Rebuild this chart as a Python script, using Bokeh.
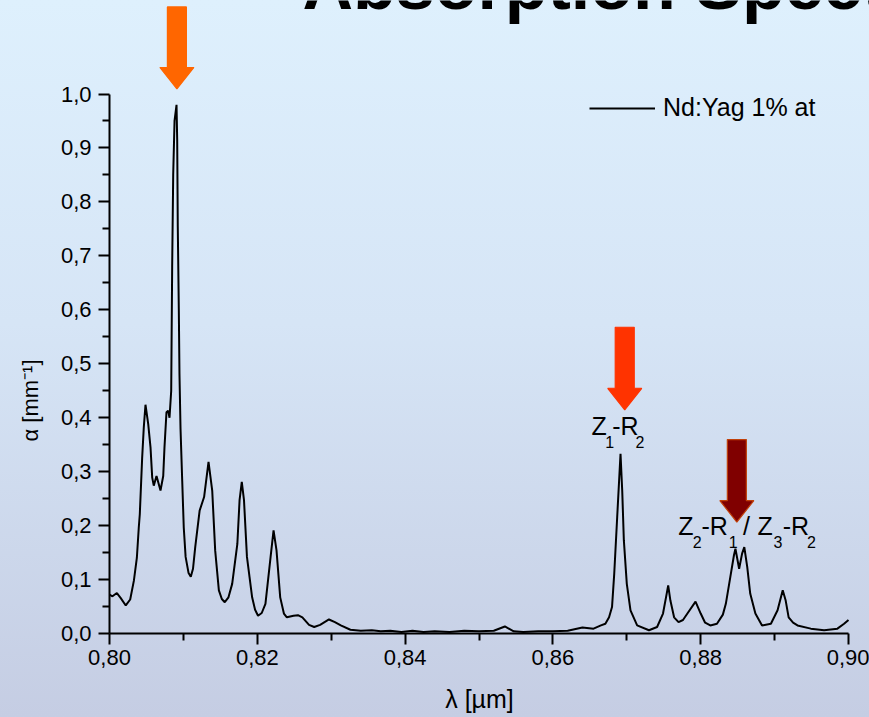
import math
from bokeh.plotting import figure
from bokeh.models import Range1d, FixedTicker, Label, Legend, LegendItem, Title
from bokeh.embed import file_html
from bokeh.resources import INLINE

# ---------------- data ----------------
wavelength_um = [
    0.8000, 0.8004, 0.8010, 0.8015, 0.8022, 0.8028, 0.8033, 0.8037, 0.80396, 0.8041,
    0.80442, 0.80464, 0.80487, 0.80524, 0.80555, 0.80578, 0.80599, 0.80636, 0.80654, 0.8069,
    0.80727, 0.80744, 0.80771, 0.80794, 0.80812, 0.80835, 0.80848, 0.80862, 0.8088, 0.80907,
    0.80916, 0.80924, 0.80938, 0.80947, 0.80961, 0.80984, 0.81005, 0.8103, 0.8107, 0.8110,
    0.8113, 0.8116, 0.8122, 0.8128, 0.8134, 0.8139, 0.8143, 0.8148, 0.8152, 0.8156,
    0.8161, 0.8166, 0.8173, 0.8176, 0.8179, 0.8182, 0.8186, 0.8193, 0.8197, 0.8201,
    0.8206, 0.8211, 0.8218, 0.8222, 0.8226, 0.8231, 0.8236, 0.8240, 0.8249, 0.8255,
    0.8261, 0.8270, 0.8277, 0.8285, 0.8297, 0.8305, 0.8313, 0.8326, 0.8340, 0.8355,
    0.8367, 0.8380, 0.8395, 0.8410, 0.8425, 0.8440, 0.8460, 0.8480, 0.8500, 0.8520,
    0.8535, 0.8547, 0.8560, 0.8580, 0.8600, 0.8620, 0.8640, 0.8655, 0.8665, 0.8671,
    0.8676, 0.8680, 0.8683, 0.8687, 0.86915, 0.86938, 0.8696, 0.8700, 0.8705, 0.8714,
    0.8730, 0.8741, 0.8749, 0.8754, 0.8756, 0.8759, 0.8764, 0.8770, 0.8776, 0.8782,
    0.8793, 0.8800, 0.8806, 0.8813, 0.8822, 0.8830, 0.8834, 0.8840, 0.8845, 0.8847,
    0.8852, 0.8856, 0.8859, 0.8863, 0.8867, 0.8874, 0.8883, 0.8895, 0.8904, 0.8911,
    0.8915, 0.8919, 0.8925, 0.8931, 0.8949, 0.8967, 0.8985, 0.8994, 0.9000,
]
alpha_mm = [
    0.072, 0.069, 0.075, 0.066, 0.052, 0.063, 0.098, 0.140, 0.196, 0.221,
    0.326, 0.382, 0.424, 0.388, 0.345, 0.289, 0.274, 0.292, 0.283, 0.265,
    0.292, 0.345, 0.410, 0.413, 0.400, 0.450, 0.680, 0.850, 0.950, 0.980,
    0.915, 0.754, 0.600, 0.480, 0.380, 0.283, 0.196, 0.142, 0.112, 0.105,
    0.120, 0.160, 0.228, 0.253, 0.318, 0.265, 0.154, 0.080, 0.064, 0.058,
    0.067, 0.092, 0.166, 0.247, 0.281, 0.247, 0.142, 0.067, 0.044, 0.033,
    0.038, 0.055, 0.142, 0.191, 0.154, 0.067, 0.037, 0.030, 0.033, 0.034,
    0.030, 0.016, 0.012, 0.016, 0.026, 0.021, 0.015, 0.007, 0.005, 0.006,
    0.004, 0.005, 0.003, 0.005, 0.003, 0.004, 0.003, 0.005, 0.004, 0.005,
    0.013, 0.004, 0.003, 0.004, 0.004, 0.005, 0.011, 0.009, 0.015, 0.018,
    0.030, 0.049, 0.111, 0.216, 0.333, 0.265, 0.173, 0.092, 0.043, 0.015,
    0.006, 0.012, 0.037, 0.074, 0.089, 0.061, 0.030, 0.021, 0.025, 0.037,
    0.059, 0.037, 0.020, 0.015, 0.018, 0.035, 0.055, 0.104, 0.145, 0.157,
    0.120, 0.148, 0.160, 0.123, 0.074, 0.037, 0.015, 0.018, 0.043, 0.080,
    0.061, 0.030, 0.020, 0.015, 0.009, 0.006, 0.009, 0.018, 0.025,
]
series_name = "Nd:Yag 1% at"

x_tick_values = [0.80, 0.82, 0.84, 0.86, 0.88, 0.90]
x_tick_labels = ["0,80", "0,82", "0,84", "0,86", "0,88", "0,90"]
x_minor_ticks = [0.81, 0.83, 0.85, 0.87, 0.89]
y_tick_values = [0.0, 0.1, 0.2, 0.3, 0.4, 0.5, 0.6, 0.7, 0.8, 0.9, 1.0]
y_tick_labels = ["0,0", "0,1", "0,2", "0,3", "0,4", "0,5", "0,6", "0,7", "0,8", "0,9", "1,0"]
y_minor_ticks = [0.05, 0.15, 0.25, 0.35, 0.45, 0.55, 0.65, 0.75, 0.85, 0.95]

# arrows marking the pump lines (x position, top of shaft, tip)
arrow_x = [0.80912, 0.86972, 0.88489]
arrow_top = [1.1614, 0.5677, 0.3594]
arrow_tip = [1.0093, 0.4147, 0.2065]
arrow_fill = ["#FF6600", "#FF3300", "#800000"]
arrow_line = ["#FF6600", "#FF3300", "#C0400A"]

FONT = "Liberation Sans"

# ---------------- figure ----------------
PX_PER_X = 7390.0
PX_PER_Y = 539.5
FRAME_H = 633
X_END = 0.90 + 21 / PX_PER_X

p = figure(width=869, height=717, output_backend="svg", toolbar_location=None,
           x_range=Range1d(0.80, X_END), y_range=Range1d(0, FRAME_H / PX_PER_Y),
           min_border_left=109, min_border_right=0, min_border_top=0, min_border_bottom=84)
p.styles = {"background": "linear-gradient(to bottom, #DEF0FD 0%, #D6E5F6 45%, #C5CDE3 100%)"}
p.background_fill_alpha = 0
p.border_fill_alpha = 0
p.outline_line_color = None
p.grid.visible = False

# spectrum
r = p.line(wavelength_um, alpha_mm, line_color="black", line_width=2)

# arrows
SHAFT_HW = 9.5 / PX_PER_X
HEAD_HW = 17.0 / PX_PER_X
HEAD_LEN = 21.5 / PX_PER_Y
xs, ys = [], []
for ax, at, tip in zip(arrow_x, arrow_top, arrow_tip):
    hb = tip + HEAD_LEN
    xs.append([ax - SHAFT_HW, ax + SHAFT_HW, ax + SHAFT_HW, ax + HEAD_HW, ax,
               ax - HEAD_HW, ax - SHAFT_HW])
    ys.append([at, at, hb, hb, tip, hb, hb])
p.patches(xs, ys, fill_color=arrow_fill, line_color=arrow_line, line_width=1.2)

# axes
xa = p.xaxis[0]
ya = p.yaxis[0]
xa.ticker = FixedTicker(ticks=x_tick_values, minor_ticks=x_minor_ticks)
ya.ticker = FixedTicker(ticks=y_tick_values, minor_ticks=y_minor_ticks)
xa.major_label_overrides = dict(zip(x_tick_values, x_tick_labels))
ya.major_label_overrides = dict(zip(y_tick_values, y_tick_labels))
xa.bounds = (0.80, 0.90)
ya.bounds = (0.0, 1.0)
for a in (xa, ya):
    a.axis_line_width = 2
    a.axis_line_color = "black"
    a.major_tick_line_width = 2
    a.minor_tick_line_width = 2
    a.major_tick_in = 0
    a.minor_tick_in = 0
    a.major_tick_out = 11
    a.minor_tick_out = 7
    a.major_label_text_font = FONT
    a.major_label_text_color = "black"
    a.axis_label_text_font = FONT
    a.axis_label_text_font_style = "normal"
    a.axis_label_text_color = "black"
xa.major_label_text_font_size = "22px"
ya.major_label_text_font_size = "22px"
xa.major_label_standoff = 5
ya.major_label_standoff = 7
# trailing thin spaces shift the centred label to the centre of the 0.80-0.90 axis
xa.axis_label = "λ [µm]\u2009\u2009\u2009\u2009"
xa.axis_label_text_font_size = "25px"
xa.axis_label_standoff = 17

# y title as a side title so that it can sit lower than the frame centre
p.add_layout(Title(text="α [mm⁻¹]", align="left", offset=192, vertical_align="top",
                   standoff=26, text_font=FONT, text_font_size="22px",
                   text_font_style="normal", text_color="black"), "left")


def sx(px):
    return 0.80 + (px - 109) / PX_PER_X


def sy_base(py, fs):
    # baseline position (Bokeh places "alphabetic" text ~0.44em lower)
    return (FRAME_H - (py - 0.44 * fs)) / PX_PER_Y


# slide title (partly outside the slide)
TITLE_FS = 70
p.add_layout(Label(x=sx(302), y=sy_base(15, TITLE_FS), text="Absorption Spectrum",
                   text_align="left", text_baseline="alphabetic",
                   text_font=FONT, text_font_size=f"{TITLE_FS}px", text_font_style="bold",
                   text_color="black"))

# peak annotations: (text, left px, baseline px, size)
pieces = [
    ("Z", 591.0, 436.7, 25), ("1", 604.8, 448.3, 16), ("-R", 611.7, 436.7, 25), ("2", 635.0, 448.3, 16),
    ("Z", 677.8, 536.7, 25), ("2", 692.2, 549.0, 16), ("-R", 701.0, 536.7, 25), ("1", 728.3, 549.0, 16),
    ("/", 742.5, 536.7, 25),
    ("Z", 757.0, 536.7, 25), ("3", 773.0, 549.0, 16), ("-R", 782.2, 536.7, 25), ("2", 806.4, 549.0, 16),
]
for t, lx, by, fs in pieces:
    p.add_layout(Label(x=sx(lx), y=sy_base(by, fs), text=t, text_align="left",
                       text_baseline="alphabetic", text_font=FONT,
                       text_font_size=f"{fs}px", text_color="black"))

# legend
legend = Legend(items=[LegendItem(label=series_name, renderers=[r])],
                location=(480, 511), orientation="vertical",
                glyph_width=66, glyph_height=28, label_height=28,
                label_standoff=8, padding=0, margin=0, spacing=0,
                label_text_font=FONT, label_text_font_size="25px",
                label_text_color="black",
                background_fill_alpha=0, border_line_alpha=0)
p.add_layout(legend)

open("out.html", "w").write(file_html(p, INLINE))
